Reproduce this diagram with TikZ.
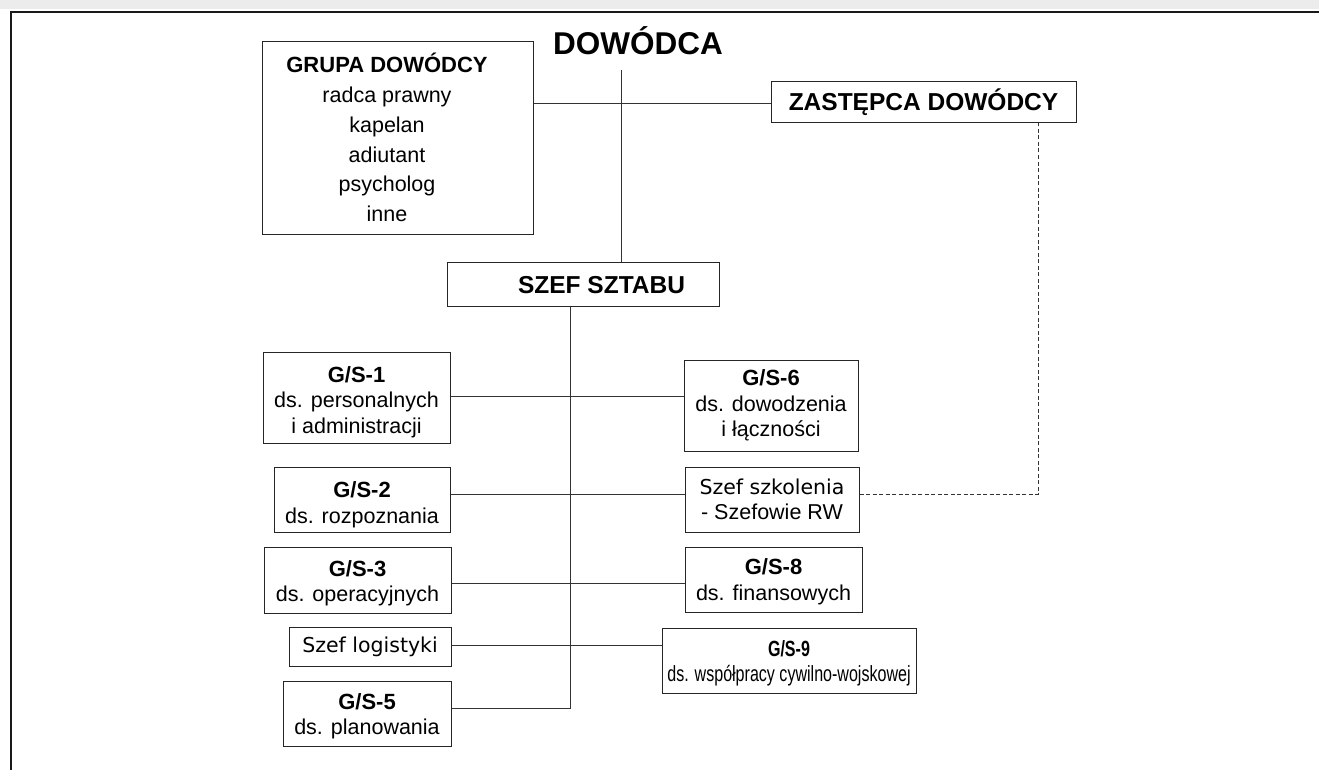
\documentclass[tikz,border=0pt]{standalone}
\usepackage{fontspec}
\setmainfont{Liberation Sans}
\newfontfamily\narrowfont{Liberation Sans}[FakeStretch=0.73]
\newfontfamily\vfont{DejaVu Sans}

\tikzset{
  frameline/.style={line width=1.8pt, draw=black!90},
  box/.style={draw=black!85, line width=1pt, inner sep=0pt, align=center},
  link/.style={draw=black!80, line width=0.9pt},
  dotlink/.style={draw=black!80, line width=0.9pt, dash pattern=on 4pt off 2.5pt},
  body/.style={font=\fontsize{21.5}{25.5}\selectfont},
  txt/.style={inner sep=0pt, align=center},
}
% bold heading line; the optional strut height lowers the text block in its box
\newcommand{\hdr}[2][0pt]{\rule{0pt}{#1}{\fontsize{22}{25.5}\selectfont\bfseries #2}}

\begin{document}
\begin{tikzpicture}[x=1pt, y=-1pt]
  \useasboundingbox (0,0) rectangle (1319,770);

  % page frame and scan strip
  \fill[gray!15] (0,0) rectangle (1319,9);
  \draw[frameline] (11,770) -- (11,12) -- (1319,12);

  % top level
  \node[font=\fontsize{31.5}{36}\selectfont\bfseries, anchor=base, inner sep=0pt] (dow) at (638,55) {DOWÓDCA};

  \node[box, minimum width=271pt, minimum height=192pt] (grupa) at (397.5,138) {};
  \node[txt, font=\fontsize{21.5}{29.8}\selectfont] (grupaT) at (387,137.5)
    {\hdr{GRUPA DOWÓDCY}\\ radca prawny\\ kapelan\\ adiutant\\ psycholog\\ inne};

  \node[box, minimum width=305pt, minimum height=41pt, font=\fontsize{24.5}{28}\selectfont\bfseries] (zast) at (923.5,102.5) {ZASTĘPCA DOWÓDCY};

  \node[box, minimum width=272pt, minimum height=44pt] (szef) at (583,284) {};
  \node[txt, font=\fontsize{24.5}{28}\selectfont\bfseries] (szefT) at (601.5,285) {SZEF SZTABU};

  % left column
  \node[box, body, minimum width=187pt, minimum height=91pt] (gs1) at (356.5,397.5)
    {\hdr[25pt]{G/S-1}\\ ds. personalnych\\ i administracji};
  \node[box, body, minimum width=176pt, minimum height=65pt] (gs2) at (362,499.5)
    {\hdr[26pt]{G/S-2}\\ ds. rozpoznania};
  \node[box, body, minimum width=187pt, minimum height=66pt] (gs3) at (357.5,580)
    {\hdr[22pt]{G/S-3}\\ ds. operacyjnych};
  \node[box, minimum width=162pt, minimum height=39pt, font=\vfont\fontsize{20.5}{25}\selectfont] (log) at (370,646.5)
    {Szef logistyki};
  \node[box, body, minimum width=168pt, minimum height=65pt] (gs5) at (367,713.5)
    {\hdr[21pt]{G/S-5}\\ ds. planowania};

  % right column
  \node[box, body, minimum width=174pt, minimum height=91pt] (gs6) at (771,405.5)
    {\hdr{G/S-6}\\ ds. dowodzenia\\ i łączności};
  \node[box, body, minimum width=174pt, minimum height=65pt] (szk) at (772,499.5)
    {{\vfont\fontsize{20.5}{25}\selectfont Szef szkolenia}\\ - Szefowie RW};
  \node[box, body, minimum width=177pt, minimum height=65pt] (gs8) at (773.5,579.5)
    {\hdr[20.5pt]{G/S-8}\\ ds. finansowych};
  \node[box, minimum width=254pt, minimum height=65pt, font=\narrowfont\fontsize{22}{25}\selectfont] (gs9) at (789,660.5)
    {\rule{0pt}{22.5pt}\textbf{G/S-9}\\ ds. współpracy cywilno-wojskowej};

  % connector levels
  \coordinate (dtop) at (621,70);
  \coordinate (spine) at (570,0);
  \coordinate (dx) at (1038,0);
  \coordinate (r0) at (0,103);
  \coordinate (r1) at (0,396);
  \coordinate (r2) at (0,494);
  \coordinate (r3) at (0,583);
  \coordinate (r4) at (0,645);
  \coordinate (r5) at (0,708);

  % connectors
  \draw[link] (dtop) -- (dtop |- szef.north);
  \draw[link] (grupa.east |- r0) -- (zast.west |- r0);
  \draw[link] (szef.south -| spine) -- (spine |- r5) -- (gs5.east |- r5);
  \draw[link] (gs1.east |- r1) -- (gs6.west |- r1);
  \draw[link] (gs2.east |- r2) -- (szk.west |- r2);
  \draw[link] (gs3.east |- r3) -- (gs8.west |- r3);
  \draw[link] (log.east |- r4) -- (gs9.west |- r4);
  \draw[dotlink] (szk.east |- r2) -- (dx |- r2) -- (dx |- zast.south);
\end{tikzpicture}
\end{document}
